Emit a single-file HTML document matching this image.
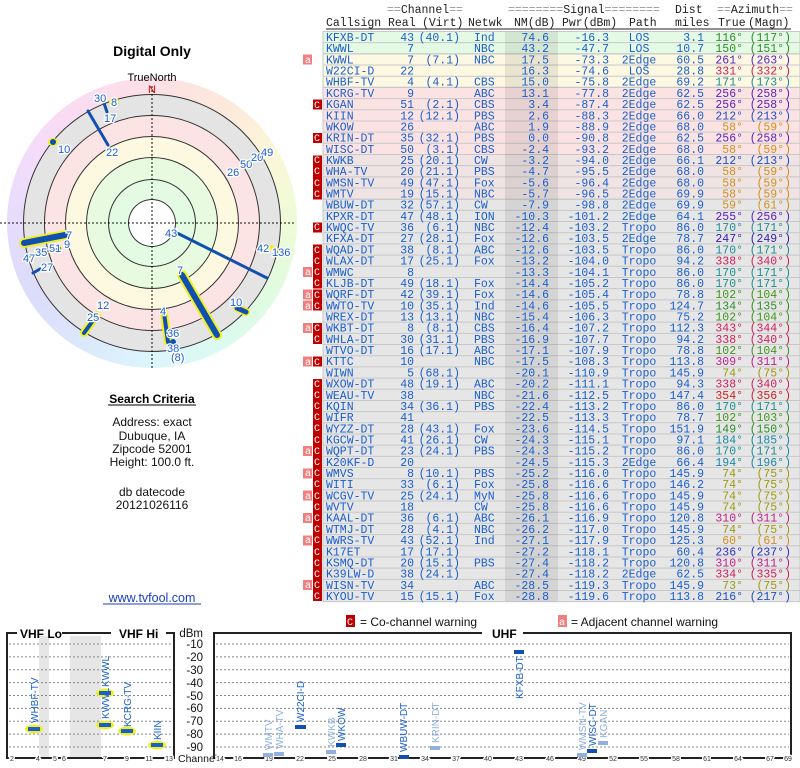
<!DOCTYPE html>
<html><head><meta charset="utf-8"><style>
body{margin:0;width:800px;height:768px;overflow:hidden;background:#fff;position:relative;font-family:"Liberation Sans",sans-serif}
.c{position:absolute;border-radius:50%}
svg{position:absolute;left:0;top:0}
.t{font-family:"Liberation Mono",monospace;font-size:11.5px;fill:#1a5fd0}
.e{text-anchor:end}.m{text-anchor:middle}
.h{font-family:"Liberation Mono",monospace;font-size:11.5px;fill:#222}
.g{fill:#999}
.n{font-size:11px;fill:#1a5fd0;stroke:#fff;stroke-width:2.5px;paint-order:stroke;font-family:"Liberation Sans",sans-serif}
.s{font-size:12px;fill:#111;text-anchor:middle}
.tk{font-size:7px;fill:#333;text-anchor:middle;stroke:#fff;stroke-width:3px;paint-order:stroke}
.dl{font-size:11.5px;fill:#111;text-anchor:end}
.vl{font-size:10px;fill:#1a5fd0}.vw{font-size:10px;fill:#8fb0e0}
.grid{stroke:#888;stroke-width:1;stroke-dasharray:2,2}
.a1{fill:#2a8f2a}.a2{fill:#1a9090}.a3{fill:#2050c0}.a4{fill:#5a1ec0}.a5{fill:#3818b0}.a6{fill:#c0208a}.a7{fill:#d0205a}.a8{fill:#d02020}.a9{fill:#d09020}.aa{fill:#a09a10}.ab{fill:#40961a}.ac{fill:#1a88a8}.ad{fill:#3030c8}
</style></head><body>
<div class="c" style="left:7px;top:78px;width:290px;height:290px;background:conic-gradient(#fde0e6,#fde8dc 30deg,#fbf7d8 60deg,#eefbd8 90deg,#e0fbe0 120deg,#dcfaf0 150deg,#dcf6fb 180deg,#dce8fb 210deg,#dcdcfb 240deg,#e6dcfb 270deg,#f4dcfb 300deg,#fbdcf0 330deg,#fde0e6)"></div>
<div class="c" style="left:24px;top:95px;width:256px;height:256px;background:#e4e4e4;box-shadow:0 0 0 1px #333"></div>
<div class="c" style="left:45px;top:116px;width:214px;height:214px;background:#fce4e4;box-shadow:0 0 0 1px #333"></div>
<div class="c" style="left:66px;top:137px;width:172px;height:172px;background:#fcf9e0;box-shadow:0 0 0 1px #333"></div>
<div class="c" style="left:87px;top:158px;width:130px;height:130px;background:#e8fbe0;box-shadow:0 0 0 1px #333"></div>
<div class="c" style="left:109px;top:180px;width:86px;height:86px;background:#e2fbe2;box-shadow:0 0 0 1px #333"></div>
<div class="c" style="left:129px;top:200px;width:46px;height:46px;background:#fff;box-shadow:0 0 0 1px #333"></div>
<svg width="800" height="768" xmlns="http://www.w3.org/2000/svg">
<text x="152" y="56" font-size="14" font-weight="bold" text-anchor="middle" fill="#000">Digital Only</text>
<text x="152" y="81" font-size="11" text-anchor="middle" fill="#000">TrueNorth</text>
<line x1="0" y1="223" x2="296" y2="223" stroke="#111" stroke-dasharray="2,2"/>
<line x1="152" y1="86" x2="152" y2="370" stroke="#111" stroke-dasharray="2,2"/>
<text x="152" y="93" font-size="11" text-anchor="middle" fill="#e00000">N</text>
<g stroke-linecap="round">
<line x1="177" y1="233" x2="267" y2="278" stroke="#1050b0" stroke-width="3"/>
<line x1="182" y1="275" x2="217" y2="335" stroke="#f0f020" stroke-width="10"/><line x1="182" y1="275" x2="217" y2="335" stroke="#1050b0" stroke-width="6"/>
<line x1="237" y1="308" x2="246" y2="312" stroke="#f0f020" stroke-width="8"/><line x1="237" y1="308" x2="246" y2="312" stroke="#1050b0" stroke-width="5"/>
<line x1="164" y1="313" x2="168" y2="342" stroke="#f0f020" stroke-width="8"/><line x1="164" y1="313" x2="168" y2="342" stroke="#1050b0" stroke-width="4"/>
<circle cx="173" cy="342" r="3" fill="#1050b0"/>
<line x1="97" y1="315" x2="84" y2="333" stroke="#f0f020" stroke-width="8"/><line x1="97" y1="315" x2="84" y2="333" stroke="#1050b0" stroke-width="4"/>
<line x1="33" y1="273" x2="40" y2="269" stroke="#1050b0" stroke-width="3"/>
<line x1="24" y1="243" x2="65" y2="235" stroke="#f0f020" stroke-width="10"/><line x1="24" y1="243" x2="65" y2="235" stroke="#1050b0" stroke-width="6"/>
<line x1="26" y1="257" x2="60" y2="248" stroke="#f0f020" stroke-width="4"/><line x1="26" y1="257" x2="60" y2="248" stroke="#1050b0" stroke-width="2"/>
<ellipse cx="53" cy="142" rx="5" ry="4" fill="#f0f020"/><circle cx="53" cy="142" r="3" fill="#1050b0"/>
<line x1="88" y1="111" x2="108" y2="145" stroke="#1050b0" stroke-width="3"/>
<line x1="104" y1="103" x2="107" y2="112" stroke="#1050b0" stroke-width="3"/>
<circle cx="114" cy="102" r="5" fill="#f0f020"/>
<line x1="255" y1="160" x2="262" y2="156" stroke="#1050b0" stroke-width="2"/>
<line x1="270" y1="247" x2="276" y2="249" stroke="#f0f020" stroke-width="4"/>
</g>
<g class="n">
<text x="165" y="237">43</text>
<text x="177" y="274">7</text><text x="230" y="306">10</text><text x="160" y="315">4</text>
<text x="167" y="337">36</text><text x="167" y="352">38</text><text x="171" y="361">(8)</text>
<text x="97" y="309">12</text><text x="87" y="321">25</text><text x="41" y="271">27</text>
<text x="66" y="239">7</text><text x="64" y="248">9</text>
<text x="23" y="262">47</text><text x="35" y="256">35</text><text x="49" y="252">51</text>
<text x="58" y="153">10</text><text x="106" y="156">22</text>
<text x="94" y="102">30</text><text x="111" y="106">8</text><text x="104" y="122">17</text>
<text x="227" y="176">26</text><text x="240" y="168">50</text><text x="251" y="161">20</text><text x="261" y="156">49</text>
<text x="257" y="252">42</text><text x="272" y="256">136</text>
</g>
<text x="152" y="403" font-size="12" font-weight="bold" text-anchor="middle" fill="#000">Search Criteria</text>
<line x1="108" y1="405" x2="196" y2="405" stroke="#000"/>
<text class="s" x="152" y="426">Address: exact</text>
<text class="s" x="152" y="440">Dubuque, IA</text>
<text class="s" x="152" y="453">Zipcode 52001</text>
<text class="s" x="152" y="466">Height: 100.0 ft.</text>
<text class="s" x="152" y="496">db datecode</text>
<text class="s" x="152" y="509">20121026116</text>
<text x="152" y="602" font-size="12.5" text-anchor="middle" fill="#1a40c0">www.tvfool.com</text>
<line x1="103" y1="604" x2="201" y2="604" stroke="#1a40c0"/>

<text class="h" x="387" y="13"><tspan class="g">==</tspan>Channel<tspan class="g">==</tspan></text>
<text class="h" x="508" y="13"><tspan class="g">========</tspan>Signal<tspan class="g">========</tspan></text>
<text class="h" x="675" y="13">Dist</text>
<text class="h" x="717" y="13"><tspan class="g">==</tspan>Azimuth<tspan class="g">==</tspan></text>
<text class="h" x="326" y="26">Callsign</text><text class="h" x="388" y="26">Real</text><text class="h" x="422" y="26">(Virt)</text><text class="h" x="468" y="26">Netwk</text><text class="h" x="514" y="26">NM(dB)</text><text class="h" x="562" y="26">Pwr(dBm)</text><text class="h" x="629" y="26">Path</text><text class="h" x="675" y="26">miles</text><text class="h" x="718" y="26">True</text><text class="h" x="748" y="26">(Magn)</text>
<line x1="326" y1="29" x2="791" y2="29" stroke="#222"/>

<g stroke="#c8c8c8" stroke-width="1">
<rect x="323" y="31.5" width="477" height="22.36" fill="#e4fae4"/>
<rect x="323" y="53.86" width="477" height="33.54" fill="#fdf8e2"/>
<rect x="323" y="87.4" width="477" height="67.08" fill="#fbe3e3"/>
<rect x="323" y="154.48" width="477" height="44.72" fill="#efe3e3"/>
<rect x="323" y="199.2" width="477" height="402.5" fill="#e6e6e6"/>
</g>
<g stroke="#c8c8c8"><path d="M323 42.68H800M323 53.86H800M323 65.04H800M323 76.22H800M323 87.4H800M323 98.58H800M323 109.76H800M323 120.94H800M323 132.12H800M323 143.3H800M323 154.48H800M323 165.66H800M323 176.84H800M323 188.02H800M323 199.2H800M323 210.38H800M323 221.56H800M323 232.74H800M323 243.92H800M323 255.1H800M323 266.28H800M323 277.46H800M323 288.64H800M323 299.82H800M323 311H800M323 322.18H800M323 333.36H800M323 344.54H800M323 355.72H800M323 366.9H800M323 378.08H800M323 389.26H800M323 400.44H800M323 411.62H800M323 422.8H800M323 433.98H800M323 445.16H800M323 456.34H800M323 467.52H800M323 478.7H800M323 489.88H800M323 501.06H800M323 512.24H800M323 523.42H800M323 534.6H800M323 545.78H800M323 556.96H800M323 568.14H800M323 579.32H800M323 590.5H800"/></g>
<rect x="505" y="31.5" width="53" height="570" fill="#000" fill-opacity="0.08"/>

<g font-family="Liberation Mono,monospace" font-size="10" fill="#fff">
<g fill="#f08080"><rect x="303" y="54.5" width="9" height="10"/><rect x="303" y="267" width="9" height="10"/><rect x="303" y="289.5" width="9" height="10"/><rect x="303" y="300.5" width="9" height="10"/><rect x="303" y="323" width="9" height="10"/><rect x="303" y="356.5" width="9" height="10"/><rect x="303" y="446" width="9" height="10"/><rect x="303" y="468.5" width="9" height="10"/><rect x="303" y="490.5" width="9" height="10"/><rect x="303" y="513" width="9" height="10"/><rect x="303" y="535.5" width="9" height="10"/><rect x="303" y="580" width="9" height="10"/></g>
<g fill="#c00000"><rect x="313" y="99.5" width="9" height="10"/><rect x="313" y="133" width="9" height="10"/><rect x="313" y="155.5" width="9" height="44"/><rect x="313" y="222.5" width="9" height="10"/><rect x="313" y="244.5" width="9" height="44"/><rect x="313" y="289.5" width="9" height="21"/><rect x="313" y="323" width="9" height="21"/><rect x="313" y="356.5" width="9" height="10"/><rect x="313" y="379" width="9" height="222"/></g>
<text x="305" y="63">a</text>
<g><text x="314" y="108">C</text><text x="314" y="141">C</text><text x="314" y="163">C</text><text x="314" y="174">C</text><text x="314" y="186">C</text><text x="314" y="197">C</text><text x="314" y="230">C</text><text x="314" y="253">C</text><text x="314" y="264">C</text><text x="305" y="275">a</text><text x="314" y="275">C</text><text x="314" y="286">C</text><text x="305" y="298">a</text><text x="314" y="298">C</text><text x="305" y="309">a</text><text x="314" y="309">C</text><text x="305" y="331">a</text><text x="314" y="331">C</text><text x="314" y="342">C</text><text x="305" y="365">a</text><text x="314" y="365">C</text>
<text x="314" y="387">C</text><text x="314" y="398">C</text><text x="314" y="409">C</text><text x="314" y="420">C</text><text x="314" y="431">C</text><text x="314" y="443">C</text><text x="305" y="454">a</text><text x="314" y="454">C</text><text x="314" y="465">C</text><text x="305" y="476">a</text><text x="314" y="476">C</text><text x="314" y="487">C</text><text x="305" y="499">a</text><text x="314" y="499">C</text><text x="314" y="510">C</text><text x="305" y="521">a</text><text x="314" y="521">C</text><text x="314" y="532">C</text><text x="305" y="543">a</text><text x="314" y="543">C</text><text x="314" y="555">C</text><text x="314" y="566">C</text><text x="314" y="577">C</text><text x="305" y="588">a</text><text x="314" y="588">C</text><text x="314" y="599">C</text></g>
</g>

<g class="t">
<g transform="translate(0,31.5)"><text x="326" y="9.5">KFXB-DT</text><text class="e" x="414" y="9.5">43</text><text class="e" x="460" y="9.5">(40.1)</text><text x="474" y="9.5">Ind</text><text class="e" x="549" y="9.5">74.6</text><text class="e" x="609" y="9.5">-16.3</text><text class="m" x="639" y="9.5">LOS</text><text class="e" x="704" y="9.5">3.1</text><text class="e a1" x="743" y="9.5">116°</text><text class="e a1" x="791" y="9.5">(117°)</text></g>
<g transform="translate(0,42.68)"><text x="326" y="9.5">KWWL</text><text class="e" x="414" y="9.5">7</text><text x="474" y="9.5">NBC</text><text class="e" x="549" y="9.5">43.2</text><text class="e" x="609" y="9.5">-47.7</text><text class="m" x="639" y="9.5">LOS</text><text class="e" x="704" y="9.5">10.7</text><text class="e a1" x="743" y="9.5">150°</text><text class="e a1" x="791" y="9.5">(151°)</text></g>
<g transform="translate(0,53.86)"><text x="326" y="9.5">KWWL</text><text class="e" x="414" y="9.5">7</text><text class="e" x="460" y="9.5">(7.1)</text><text x="474" y="9.5">NBC</text><text class="e" x="549" y="9.5">17.5</text><text class="e" x="609" y="9.5">-73.3</text><text class="m" x="639" y="9.5">2Edge</text><text class="e" x="704" y="9.5">60.5</text><text class="e a4" x="743" y="9.5">261°</text><text class="e a4" x="791" y="9.5">(263°)</text></g>
<g transform="translate(0,65.04)"><text x="326" y="9.5">W22CI-D</text><text class="e" x="414" y="9.5">22</text><text class="e" x="549" y="9.5">16.3</text><text class="e" x="609" y="9.5">-74.6</text><text class="m" x="639" y="9.5">LOS</text><text class="e" x="704" y="9.5">28.8</text><text class="e a7" x="743" y="9.5">331°</text><text class="e a7" x="791" y="9.5">(332°)</text></g>
<g transform="translate(0,76.22)"><text x="326" y="9.5">WHBF-TV</text><text class="e" x="414" y="9.5">4</text><text class="e" x="460" y="9.5">(4.1)</text><text x="474" y="9.5">CBS</text><text class="e" x="549" y="9.5">15.0</text><text class="e" x="609" y="9.5">-75.8</text><text class="m" x="639" y="9.5">2Edge</text><text class="e" x="704" y="9.5">69.2</text><text class="e a2" x="743" y="9.5">171°</text><text class="e a2" x="791" y="9.5">(173°)</text></g>
<g transform="translate(0,87.4)"><text x="326" y="9.5">KCRG-TV</text><text class="e" x="414" y="9.5">9</text><text x="474" y="9.5">ABC</text><text class="e" x="549" y="9.5">13.1</text><text class="e" x="609" y="9.5">-77.8</text><text class="m" x="639" y="9.5">2Edge</text><text class="e" x="704" y="9.5">62.5</text><text class="e a4" x="743" y="9.5">256°</text><text class="e a4" x="791" y="9.5">(258°)</text></g>
<g transform="translate(0,98.58)"><text x="326" y="9.5">KGAN</text><text class="e" x="414" y="9.5">51</text><text class="e" x="460" y="9.5">(2.1)</text><text x="474" y="9.5">CBS</text><text class="e" x="549" y="9.5">3.4</text><text class="e" x="609" y="9.5">-87.4</text><text class="m" x="639" y="9.5">2Edge</text><text class="e" x="704" y="9.5">62.5</text><text class="e a4" x="743" y="9.5">256°</text><text class="e a4" x="791" y="9.5">(258°)</text></g>
<g transform="translate(0,109.76)"><text x="326" y="9.5">KIIN</text><text class="e" x="414" y="9.5">12</text><text class="e" x="460" y="9.5">(12.1)</text><text x="474" y="9.5">PBS</text><text class="e" x="549" y="9.5">2.6</text><text class="e" x="609" y="9.5">-88.3</text><text class="m" x="639" y="9.5">2Edge</text><text class="e" x="704" y="9.5">66.0</text><text class="e a3" x="743" y="9.5">212°</text><text class="e a3" x="791" y="9.5">(213°)</text></g>
<g transform="translate(0,120.94)"><text x="326" y="9.5">WKOW</text><text class="e" x="414" y="9.5">26</text><text x="474" y="9.5">ABC</text><text class="e" x="549" y="9.5">1.9</text><text class="e" x="609" y="9.5">-88.9</text><text class="m" x="639" y="9.5">2Edge</text><text class="e" x="704" y="9.5">68.0</text><text class="e a9" x="743" y="9.5">58°</text><text class="e a9" x="791" y="9.5">(59°)</text></g>
<g transform="translate(0,132.12)"><text x="326" y="9.5">KRIN-DT</text><text class="e" x="414" y="9.5">35</text><text class="e" x="460" y="9.5">(32.1)</text><text x="474" y="9.5">PBS</text><text class="e" x="549" y="9.5">0.0</text><text class="e" x="609" y="9.5">-90.8</text><text class="m" x="639" y="9.5">2Edge</text><text class="e" x="704" y="9.5">62.5</text><text class="e a4" x="743" y="9.5">256°</text><text class="e a4" x="791" y="9.5">(258°)</text></g>
<g transform="translate(0,143.3)"><text x="326" y="9.5">WISC-DT</text><text class="e" x="414" y="9.5">50</text><text class="e" x="460" y="9.5">(3.1)</text><text x="474" y="9.5">CBS</text><text class="e" x="549" y="9.5">-2.4</text><text class="e" x="609" y="9.5">-93.2</text><text class="m" x="639" y="9.5">2Edge</text><text class="e" x="704" y="9.5">68.0</text><text class="e a9" x="743" y="9.5">58°</text><text class="e a9" x="791" y="9.5">(59°)</text></g>
<g transform="translate(0,154.48)"><text x="326" y="9.5">KWKB</text><text class="e" x="414" y="9.5">25</text><text class="e" x="460" y="9.5">(20.1)</text><text x="474" y="9.5">CW</text><text class="e" x="549" y="9.5">-3.2</text><text class="e" x="609" y="9.5">-94.0</text><text class="m" x="639" y="9.5">2Edge</text><text class="e" x="704" y="9.5">66.1</text><text class="e a3" x="743" y="9.5">212°</text><text class="e a3" x="791" y="9.5">(213°)</text></g>
<g transform="translate(0,165.66)"><text x="326" y="9.5">WHA-TV</text><text class="e" x="414" y="9.5">20</text><text class="e" x="460" y="9.5">(21.1)</text><text x="474" y="9.5">PBS</text><text class="e" x="549" y="9.5">-4.7</text><text class="e" x="609" y="9.5">-95.5</text><text class="m" x="639" y="9.5">2Edge</text><text class="e" x="704" y="9.5">68.0</text><text class="e a9" x="743" y="9.5">58°</text><text class="e a9" x="791" y="9.5">(59°)</text></g>
<g transform="translate(0,176.84)"><text x="326" y="9.5">WMSN-TV</text><text class="e" x="414" y="9.5">49</text><text class="e" x="460" y="9.5">(47.1)</text><text x="474" y="9.5">Fox</text><text class="e" x="549" y="9.5">-5.6</text><text class="e" x="609" y="9.5">-96.4</text><text class="m" x="639" y="9.5">2Edge</text><text class="e" x="704" y="9.5">68.0</text><text class="e a9" x="743" y="9.5">58°</text><text class="e a9" x="791" y="9.5">(59°)</text></g>
<g transform="translate(0,188.02)"><text x="326" y="9.5">WMTV</text><text class="e" x="414" y="9.5">19</text><text class="e" x="460" y="9.5">(15.1)</text><text x="474" y="9.5">NBC</text><text class="e" x="549" y="9.5">-5.7</text><text class="e" x="609" y="9.5">-96.5</text><text class="m" x="639" y="9.5">2Edge</text><text class="e" x="704" y="9.5">69.9</text><text class="e a9" x="743" y="9.5">58°</text><text class="e a9" x="791" y="9.5">(59°)</text></g>
<g transform="translate(0,199.2)"><text x="326" y="9.5">WBUW-DT</text><text class="e" x="414" y="9.5">32</text><text class="e" x="460" y="9.5">(57.1)</text><text x="474" y="9.5">CW</text><text class="e" x="549" y="9.5">-7.9</text><text class="e" x="609" y="9.5">-98.8</text><text class="m" x="639" y="9.5">2Edge</text><text class="e" x="704" y="9.5">69.9</text><text class="e a9" x="743" y="9.5">59°</text><text class="e a9" x="791" y="9.5">(61°)</text></g>
<g transform="translate(0,210.38)"><text x="326" y="9.5">KPXR-DT</text><text class="e" x="414" y="9.5">47</text><text class="e" x="460" y="9.5">(48.1)</text><text x="474" y="9.5">ION</text><text class="e" x="549" y="9.5">-10.3</text><text class="e" x="609" y="9.5">-101.2</text><text class="m" x="639" y="9.5">2Edge</text><text class="e" x="704" y="9.5">64.1</text><text class="e a4" x="743" y="9.5">255°</text><text class="e a4" x="791" y="9.5">(256°)</text></g>
<g transform="translate(0,221.56)"><text x="326" y="9.5">KWQC-TV</text><text class="e" x="414" y="9.5">36</text><text class="e" x="460" y="9.5">(6.1)</text><text x="474" y="9.5">NBC</text><text class="e" x="549" y="9.5">-12.4</text><text class="e" x="609" y="9.5">-103.2</text><text class="m" x="639" y="9.5">Tropo</text><text class="e" x="704" y="9.5">86.0</text><text class="e a2" x="743" y="9.5">170°</text><text class="e a2" x="791" y="9.5">(171°)</text></g>
<g transform="translate(0,232.74)"><text x="326" y="9.5">KFXA-DT</text><text class="e" x="414" y="9.5">27</text><text class="e" x="460" y="9.5">(28.1)</text><text x="474" y="9.5">Fox</text><text class="e" x="549" y="9.5">-12.6</text><text class="e" x="609" y="9.5">-103.5</text><text class="m" x="639" y="9.5">2Edge</text><text class="e" x="704" y="9.5">78.7</text><text class="e a5" x="743" y="9.5">247°</text><text class="e a5" x="791" y="9.5">(249°)</text></g>
<g transform="translate(0,243.92)"><text x="326" y="9.5">WQAD-DT</text><text class="e" x="414" y="9.5">38</text><text class="e" x="460" y="9.5">(8.1)</text><text x="474" y="9.5">ABC</text><text class="e" x="549" y="9.5">-12.6</text><text class="e" x="609" y="9.5">-103.5</text><text class="m" x="639" y="9.5">Tropo</text><text class="e" x="704" y="9.5">86.0</text><text class="e a2" x="743" y="9.5">170°</text><text class="e a2" x="791" y="9.5">(171°)</text></g>
<g transform="translate(0,255.1)"><text x="326" y="9.5">WLAX-DT</text><text class="e" x="414" y="9.5">17</text><text class="e" x="460" y="9.5">(25.1)</text><text x="474" y="9.5">Fox</text><text class="e" x="549" y="9.5">-13.2</text><text class="e" x="609" y="9.5">-104.0</text><text class="m" x="639" y="9.5">Tropo</text><text class="e" x="704" y="9.5">94.2</text><text class="e a7" x="743" y="9.5">338°</text><text class="e a7" x="791" y="9.5">(340°)</text></g>
<g transform="translate(0,266.28)"><text x="326" y="9.5">WMWC</text><text class="e" x="414" y="9.5">8</text><text class="e" x="549" y="9.5">-13.3</text><text class="e" x="609" y="9.5">-104.1</text><text class="m" x="639" y="9.5">Tropo</text><text class="e" x="704" y="9.5">86.0</text><text class="e a2" x="743" y="9.5">170°</text><text class="e a2" x="791" y="9.5">(171°)</text></g>
<g transform="translate(0,277.46)"><text x="326" y="9.5">KLJB-DT</text><text class="e" x="414" y="9.5">49</text><text class="e" x="460" y="9.5">(18.1)</text><text x="474" y="9.5">Fox</text><text class="e" x="549" y="9.5">-14.4</text><text class="e" x="609" y="9.5">-105.2</text><text class="m" x="639" y="9.5">Tropo</text><text class="e" x="704" y="9.5">86.0</text><text class="e a2" x="743" y="9.5">170°</text><text class="e a2" x="791" y="9.5">(171°)</text></g>
<g transform="translate(0,288.64)"><text x="326" y="9.5">WQRF-DT</text><text class="e" x="414" y="9.5">42</text><text class="e" x="460" y="9.5">(39.1)</text><text x="474" y="9.5">Fox</text><text class="e" x="549" y="9.5">-14.6</text><text class="e" x="609" y="9.5">-105.4</text><text class="m" x="639" y="9.5">Tropo</text><text class="e" x="704" y="9.5">78.8</text><text class="e ab" x="743" y="9.5">102°</text><text class="e ab" x="791" y="9.5">(104°)</text></g>
<g transform="translate(0,299.82)"><text x="326" y="9.5">WWTO-TV</text><text class="e" x="414" y="9.5">10</text><text class="e" x="460" y="9.5">(35.1)</text><text x="474" y="9.5">Ind</text><text class="e" x="549" y="9.5">-14.6</text><text class="e" x="609" y="9.5">-105.5</text><text class="m" x="639" y="9.5">Tropo</text><text class="e" x="704" y="9.5">124.7</text><text class="e a1" x="743" y="9.5">134°</text><text class="e a1" x="791" y="9.5">(135°)</text></g>
<g transform="translate(0,311)"><text x="326" y="9.5">WREX-DT</text><text class="e" x="414" y="9.5">13</text><text class="e" x="460" y="9.5">(13.1)</text><text x="474" y="9.5">NBC</text><text class="e" x="549" y="9.5">-15.4</text><text class="e" x="609" y="9.5">-106.3</text><text class="m" x="639" y="9.5">Tropo</text><text class="e" x="704" y="9.5">75.2</text><text class="e ab" x="743" y="9.5">102°</text><text class="e ab" x="791" y="9.5">(104°)</text></g>
<g transform="translate(0,322.18)"><text x="326" y="9.5">WKBT-DT</text><text class="e" x="414" y="9.5">8</text><text class="e" x="460" y="9.5">(8.1)</text><text x="474" y="9.5">CBS</text><text class="e" x="549" y="9.5">-16.4</text><text class="e" x="609" y="9.5">-107.2</text><text class="m" x="639" y="9.5">Tropo</text><text class="e" x="704" y="9.5">112.3</text><text class="e a7" x="743" y="9.5">343°</text><text class="e a7" x="791" y="9.5">(344°)</text></g>
<g transform="translate(0,333.36)"><text x="326" y="9.5">WHLA-DT</text><text class="e" x="414" y="9.5">30</text><text class="e" x="460" y="9.5">(31.1)</text><text x="474" y="9.5">PBS</text><text class="e" x="549" y="9.5">-16.9</text><text class="e" x="609" y="9.5">-107.7</text><text class="m" x="639" y="9.5">Tropo</text><text class="e" x="704" y="9.5">94.2</text><text class="e a7" x="743" y="9.5">338°</text><text class="e a7" x="791" y="9.5">(340°)</text></g>
<g transform="translate(0,344.54)"><text x="326" y="9.5">WTVO-DT</text><text class="e" x="414" y="9.5">16</text><text class="e" x="460" y="9.5">(17.1)</text><text x="474" y="9.5">ABC</text><text class="e" x="549" y="9.5">-17.1</text><text class="e" x="609" y="9.5">-107.9</text><text class="m" x="639" y="9.5">Tropo</text><text class="e" x="704" y="9.5">78.8</text><text class="e ab" x="743" y="9.5">102°</text><text class="e ab" x="791" y="9.5">(104°)</text></g>
<g transform="translate(0,355.72)"><text x="326" y="9.5">KTTC</text><text class="e" x="414" y="9.5">10</text><text x="474" y="9.5">NBC</text><text class="e" x="549" y="9.5">-17.5</text><text class="e" x="609" y="9.5">-108.3</text><text class="m" x="639" y="9.5">Tropo</text><text class="e" x="704" y="9.5">113.8</text><text class="e a6" x="743" y="9.5">309°</text><text class="e a6" x="791" y="9.5">(311°)</text></g>
<g transform="translate(0,366.9)"><text x="326" y="9.5">WIWN</text><text class="e" x="414" y="9.5">5</text><text class="e" x="460" y="9.5">(68.1)</text><text class="e" x="549" y="9.5">-20.1</text><text class="e" x="609" y="9.5">-110.9</text><text class="m" x="639" y="9.5">Tropo</text><text class="e" x="704" y="9.5">145.9</text><text class="e aa" x="743" y="9.5">74°</text><text class="e aa" x="791" y="9.5">(75°)</text></g>
<g transform="translate(0,378.08)"><text x="326" y="9.5">WXOW-DT</text><text class="e" x="414" y="9.5">48</text><text class="e" x="460" y="9.5">(19.1)</text><text x="474" y="9.5">ABC</text><text class="e" x="549" y="9.5">-20.2</text><text class="e" x="609" y="9.5">-111.1</text><text class="m" x="639" y="9.5">Tropo</text><text class="e" x="704" y="9.5">94.3</text><text class="e a7" x="743" y="9.5">338°</text><text class="e a7" x="791" y="9.5">(340°)</text></g>
<g transform="translate(0,389.26)"><text x="326" y="9.5">WEAU-TV</text><text class="e" x="414" y="9.5">38</text><text x="474" y="9.5">NBC</text><text class="e" x="549" y="9.5">-21.6</text><text class="e" x="609" y="9.5">-112.5</text><text class="m" x="639" y="9.5">Tropo</text><text class="e" x="704" y="9.5">147.4</text><text class="e a8" x="743" y="9.5">354°</text><text class="e a8" x="791" y="9.5">(356°)</text></g>
<g transform="translate(0,400.44)"><text x="326" y="9.5">KQIN</text><text class="e" x="414" y="9.5">34</text><text class="e" x="460" y="9.5">(36.1)</text><text x="474" y="9.5">PBS</text><text class="e" x="549" y="9.5">-22.4</text><text class="e" x="609" y="9.5">-113.2</text><text class="m" x="639" y="9.5">Tropo</text><text class="e" x="704" y="9.5">86.0</text><text class="e a2" x="743" y="9.5">170°</text><text class="e a2" x="791" y="9.5">(171°)</text></g>
<g transform="translate(0,411.62)"><text x="326" y="9.5">WIFR</text><text class="e" x="414" y="9.5">41</text><text class="e" x="549" y="9.5">-22.5</text><text class="e" x="609" y="9.5">-113.3</text><text class="m" x="639" y="9.5">Tropo</text><text class="e" x="704" y="9.5">78.7</text><text class="e ab" x="743" y="9.5">102°</text><text class="e ab" x="791" y="9.5">(103°)</text></g>
<g transform="translate(0,422.8)"><text x="326" y="9.5">WYZZ-DT</text><text class="e" x="414" y="9.5">28</text><text class="e" x="460" y="9.5">(43.1)</text><text x="474" y="9.5">Fox</text><text class="e" x="549" y="9.5">-23.6</text><text class="e" x="609" y="9.5">-114.5</text><text class="m" x="639" y="9.5">Tropo</text><text class="e" x="704" y="9.5">151.9</text><text class="e a1" x="743" y="9.5">149°</text><text class="e a1" x="791" y="9.5">(150°)</text></g>
<g transform="translate(0,433.98)"><text x="326" y="9.5">KGCW-DT</text><text class="e" x="414" y="9.5">41</text><text class="e" x="460" y="9.5">(26.1)</text><text x="474" y="9.5">CW</text><text class="e" x="549" y="9.5">-24.3</text><text class="e" x="609" y="9.5">-115.1</text><text class="m" x="639" y="9.5">Tropo</text><text class="e" x="704" y="9.5">97.1</text><text class="e ac" x="743" y="9.5">184°</text><text class="e ac" x="791" y="9.5">(185°)</text></g>
<g transform="translate(0,445.16)"><text x="326" y="9.5">WQPT-DT</text><text class="e" x="414" y="9.5">23</text><text class="e" x="460" y="9.5">(24.1)</text><text x="474" y="9.5">PBS</text><text class="e" x="549" y="9.5">-24.3</text><text class="e" x="609" y="9.5">-115.2</text><text class="m" x="639" y="9.5">Tropo</text><text class="e" x="704" y="9.5">86.0</text><text class="e a2" x="743" y="9.5">170°</text><text class="e a2" x="791" y="9.5">(171°)</text></g>
<g transform="translate(0,456.34)"><text x="326" y="9.5">K20KF-D</text><text class="e" x="414" y="9.5">20</text><text class="e" x="549" y="9.5">-24.5</text><text class="e" x="609" y="9.5">-115.3</text><text class="m" x="639" y="9.5">2Edge</text><text class="e" x="704" y="9.5">66.4</text><text class="e ac" x="743" y="9.5">194°</text><text class="e ac" x="791" y="9.5">(196°)</text></g>
<g transform="translate(0,467.52)"><text x="326" y="9.5">WMVS</text><text class="e" x="414" y="9.5">8</text><text class="e" x="460" y="9.5">(10.1)</text><text x="474" y="9.5">PBS</text><text class="e" x="549" y="9.5">-25.2</text><text class="e" x="609" y="9.5">-116.0</text><text class="m" x="639" y="9.5">Tropo</text><text class="e" x="704" y="9.5">145.9</text><text class="e aa" x="743" y="9.5">74°</text><text class="e aa" x="791" y="9.5">(75°)</text></g>
<g transform="translate(0,478.7)"><text x="326" y="9.5">WITI</text><text class="e" x="414" y="9.5">33</text><text class="e" x="460" y="9.5">(6.1)</text><text x="474" y="9.5">Fox</text><text class="e" x="549" y="9.5">-25.8</text><text class="e" x="609" y="9.5">-116.6</text><text class="m" x="639" y="9.5">Tropo</text><text class="e" x="704" y="9.5">146.2</text><text class="e aa" x="743" y="9.5">74°</text><text class="e aa" x="791" y="9.5">(75°)</text></g>
<g transform="translate(0,489.88)"><text x="326" y="9.5">WCGV-TV</text><text class="e" x="414" y="9.5">25</text><text class="e" x="460" y="9.5">(24.1)</text><text x="474" y="9.5">MyN</text><text class="e" x="549" y="9.5">-25.8</text><text class="e" x="609" y="9.5">-116.6</text><text class="m" x="639" y="9.5">Tropo</text><text class="e" x="704" y="9.5">145.9</text><text class="e aa" x="743" y="9.5">74°</text><text class="e aa" x="791" y="9.5">(75°)</text></g>
<g transform="translate(0,501.06)"><text x="326" y="9.5">WVTV</text><text class="e" x="414" y="9.5">18</text><text x="474" y="9.5">CW</text><text class="e" x="549" y="9.5">-25.8</text><text class="e" x="609" y="9.5">-116.6</text><text class="m" x="639" y="9.5">Tropo</text><text class="e" x="704" y="9.5">145.9</text><text class="e aa" x="743" y="9.5">74°</text><text class="e aa" x="791" y="9.5">(75°)</text></g>
<g transform="translate(0,512.24)"><text x="326" y="9.5">KAAL-DT</text><text class="e" x="414" y="9.5">36</text><text class="e" x="460" y="9.5">(6.1)</text><text x="474" y="9.5">ABC</text><text class="e" x="549" y="9.5">-26.1</text><text class="e" x="609" y="9.5">-116.9</text><text class="m" x="639" y="9.5">Tropo</text><text class="e" x="704" y="9.5">120.8</text><text class="e a6" x="743" y="9.5">310°</text><text class="e a6" x="791" y="9.5">(311°)</text></g>
<g transform="translate(0,523.42)"><text x="326" y="9.5">WTMJ-DT</text><text class="e" x="414" y="9.5">28</text><text class="e" x="460" y="9.5">(4.1)</text><text x="474" y="9.5">NBC</text><text class="e" x="549" y="9.5">-26.2</text><text class="e" x="609" y="9.5">-117.0</text><text class="m" x="639" y="9.5">Tropo</text><text class="e" x="704" y="9.5">145.9</text><text class="e aa" x="743" y="9.5">74°</text><text class="e aa" x="791" y="9.5">(75°)</text></g>
<g transform="translate(0,534.6)"><text x="326" y="9.5">WWRS-TV</text><text class="e" x="414" y="9.5">43</text><text class="e" x="460" y="9.5">(52.1)</text><text x="474" y="9.5">Ind</text><text class="e" x="549" y="9.5">-27.1</text><text class="e" x="609" y="9.5">-117.9</text><text class="m" x="639" y="9.5">Tropo</text><text class="e" x="704" y="9.5">125.3</text><text class="e a9" x="743" y="9.5">60°</text><text class="e a9" x="791" y="9.5">(61°)</text></g>
<g transform="translate(0,545.78)"><text x="326" y="9.5">K17ET</text><text class="e" x="414" y="9.5">17</text><text class="e" x="460" y="9.5">(17.1)</text><text class="e" x="549" y="9.5">-27.2</text><text class="e" x="609" y="9.5">-118.1</text><text class="m" x="639" y="9.5">Tropo</text><text class="e" x="704" y="9.5">60.4</text><text class="e ad" x="743" y="9.5">236°</text><text class="e ad" x="791" y="9.5">(237°)</text></g>
<g transform="translate(0,556.96)"><text x="326" y="9.5">KSMQ-DT</text><text class="e" x="414" y="9.5">20</text><text class="e" x="460" y="9.5">(15.1)</text><text x="474" y="9.5">PBS</text><text class="e" x="549" y="9.5">-27.4</text><text class="e" x="609" y="9.5">-118.2</text><text class="m" x="639" y="9.5">Tropo</text><text class="e" x="704" y="9.5">120.8</text><text class="e a6" x="743" y="9.5">310°</text><text class="e a6" x="791" y="9.5">(311°)</text></g>
<g transform="translate(0,568.14)"><text x="326" y="9.5">K39LW-D</text><text class="e" x="414" y="9.5">38</text><text class="e" x="460" y="9.5">(24.1)</text><text class="e" x="549" y="9.5">-27.4</text><text class="e" x="609" y="9.5">-118.2</text><text class="m" x="639" y="9.5">2Edge</text><text class="e" x="704" y="9.5">62.5</text><text class="e a7" x="743" y="9.5">334°</text><text class="e a7" x="791" y="9.5">(335°)</text></g>
<g transform="translate(0,579.32)"><text x="326" y="9.5">WISN-TV</text><text class="e" x="414" y="9.5">34</text><text x="474" y="9.5">ABC</text><text class="e" x="549" y="9.5">-28.5</text><text class="e" x="609" y="9.5">-119.3</text><text class="m" x="639" y="9.5">Tropo</text><text class="e" x="704" y="9.5">145.9</text><text class="e aa" x="743" y="9.5">73°</text><text class="e aa" x="791" y="9.5">(75°)</text></g>
<g transform="translate(0,590.5)"><text x="326" y="9.5">KYOU-TV</text><text class="e" x="414" y="9.5">15</text><text class="e" x="460" y="9.5">(15.1)</text><text x="474" y="9.5">Fox</text><text class="e" x="549" y="9.5">-28.8</text><text class="e" x="609" y="9.5">-119.6</text><text class="m" x="639" y="9.5">Tropo</text><text class="e" x="704" y="9.5">113.8</text><text class="e a3" x="743" y="9.5">216°</text><text class="e a3" x="791" y="9.5">(217°)</text></g>
</g>

<rect x="346" y="615" width="9" height="12" fill="#c00000"/><text x="347" y="625" font-family="Liberation Mono,monospace" font-size="10" fill="#fff">C</text>
<text x="360" y="626" font-size="12" fill="#111">= Co-channel warning</text>
<rect x="558" y="615" width="9" height="12" fill="#f08080"/><text x="559" y="625" font-family="Liberation Mono,monospace" font-size="10" fill="#fff">a</text>
<text x="571" y="626" font-size="12" fill="#111">= Adjacent channel warning</text>

<rect x="39" y="636" width="10" height="121" fill="#e6e6e6"/>
<rect x="70" y="636" width="31" height="121" fill="#e6e6e6"/>
<g class="grid"><path d="M9 644H172M9 656.9H172M9 669.75H172M9 682.6H172M9 695.5H172M9 708.4H172M9 721.25H172M9 734.1H172M9 747H172"/>
<path d="M216 644H789M216 656.9H789M216 669.75H789M216 682.6H789M216 695.5H789M216 708.4H789M216 721.25H789M216 734.1H789M216 747H789"/></g>
<g stroke="#222" stroke-width="2" fill="none">
<path d="M17 633H7V758H174V633H166M62 633H111"/>
<path d="M482 633H214V758H791V633H523"/>
</g>
<text x="20" y="638" font-size="12" font-weight="bold">VHF Lo</text>
<text x="119" y="638" font-size="12" font-weight="bold">VHF Hi</text>
<text x="492" y="638" font-size="12" font-weight="bold">UHF</text>
<g class="dl"><text x="203" y="637">dBm</text><text x="203" y="648">-10</text><text x="203" y="661">-20</text><text x="203" y="674">-30</text><text x="203" y="687">-40</text><text x="203" y="700">-50</text><text x="203" y="712">-60</text><text x="203" y="725">-70</text><text x="203" y="738">-80</text><text x="203" y="751">-90</text></g>
<text x="178" y="762" font-size="10.5" fill="#111">Channel</text>
<g class="tk"><text x="12" y="761">2</text><text x="38" y="761">4</text><text x="55" y="761">5</text><text x="64" y="761">6</text><text x="105" y="761">7</text><text x="127" y="761">9</text><text x="149" y="761">11</text><text x="169" y="761">13</text>
<text x="220" y="761">14</text><text x="238" y="761">16</text><text x="269" y="761">19</text><text x="300" y="761">22</text><text x="332" y="761">25</text><text x="363" y="761">28</text><text x="394" y="761">31</text><text x="425" y="761">34</text><text x="456" y="761">37</text><text x="488" y="761">40</text><text x="519" y="761">43</text><text x="550" y="761">46</text><text x="582" y="761">49</text><text x="613" y="761">52</text><text x="644" y="761">55</text><text x="676" y="761">58</text><text x="707" y="761">61</text><text x="738" y="761">64</text><text x="770" y="761">67</text><text x="788" y="761">69</text></g>

<g fill="#f0f020"><ellipse cx="34" cy="729" rx="9" ry="4.5"/><ellipse cx="105" cy="725" rx="9" ry="4.5"/><ellipse cx="105" cy="693" rx="9" ry="4.5"/><ellipse cx="127" cy="731" rx="9" ry="4.5"/><ellipse cx="157" cy="745" rx="9" ry="4.5"/></g>
<g fill="#1a5fd0"><rect x="28" y="727" width="12" height="4"/><rect x="99" y="723" width="12" height="4"/><rect x="99" y="691" width="12" height="4"/><rect x="121" y="729" width="12" height="4"/><rect x="151" y="743" width="12" height="4"/></g>
<g class="vl">
<text transform="translate(38,723) rotate(-90)">WHBF-TV</text>
<text transform="translate(109,719) rotate(-90)">KWWL</text>
<text transform="translate(109,687) rotate(-90)">KWWL</text>
<text transform="translate(131,727) rotate(-90)">KCRG-TV</text>
<text transform="translate(161,740) rotate(-90)">KIIN</text>
<text transform="translate(304,722) rotate(-90)">W22CI-D</text>
<text transform="translate(345,741) rotate(-90)">WKOW</text>
<text transform="translate(407,752) rotate(-90)">WBUW-DT</text>
<text transform="translate(523,699) rotate(-90)">KFXB-DT</text>
<text transform="translate(596,746) rotate(-90)">WISC-DT</text>
</g>
<g class="vw">
<text transform="translate(272,750) rotate(-90)">WMTV</text>
<text transform="translate(283,749) rotate(-90)">WHA-TV</text>
<text transform="translate(335,747) rotate(-90)">KWKB</text>
<text transform="translate(439,743) rotate(-90)">KRIN-DT</text>
<text transform="translate(586,750) rotate(-90)">WMSN-TV</text>
<text transform="translate(607,738) rotate(-90)">KGAN</text>
</g>
<g fill="#1050b0"><rect x="295" y="725" width="11" height="4"/><rect x="336" y="743" width="10" height="4"/><rect x="399" y="755" width="10" height="4"/><rect x="514" y="650" width="10" height="4"/><rect x="587" y="749" width="10" height="4"/></g>
<g fill="#8fb0e0"><rect x="263" y="753" width="10" height="4"/><rect x="274" y="752" width="10" height="4"/><rect x="326" y="750" width="10" height="4"/><rect x="430" y="746" width="10" height="4"/><rect x="577" y="753" width="10" height="4"/><rect x="598" y="741" width="10" height="4"/></g>
</svg>
</body></html>
